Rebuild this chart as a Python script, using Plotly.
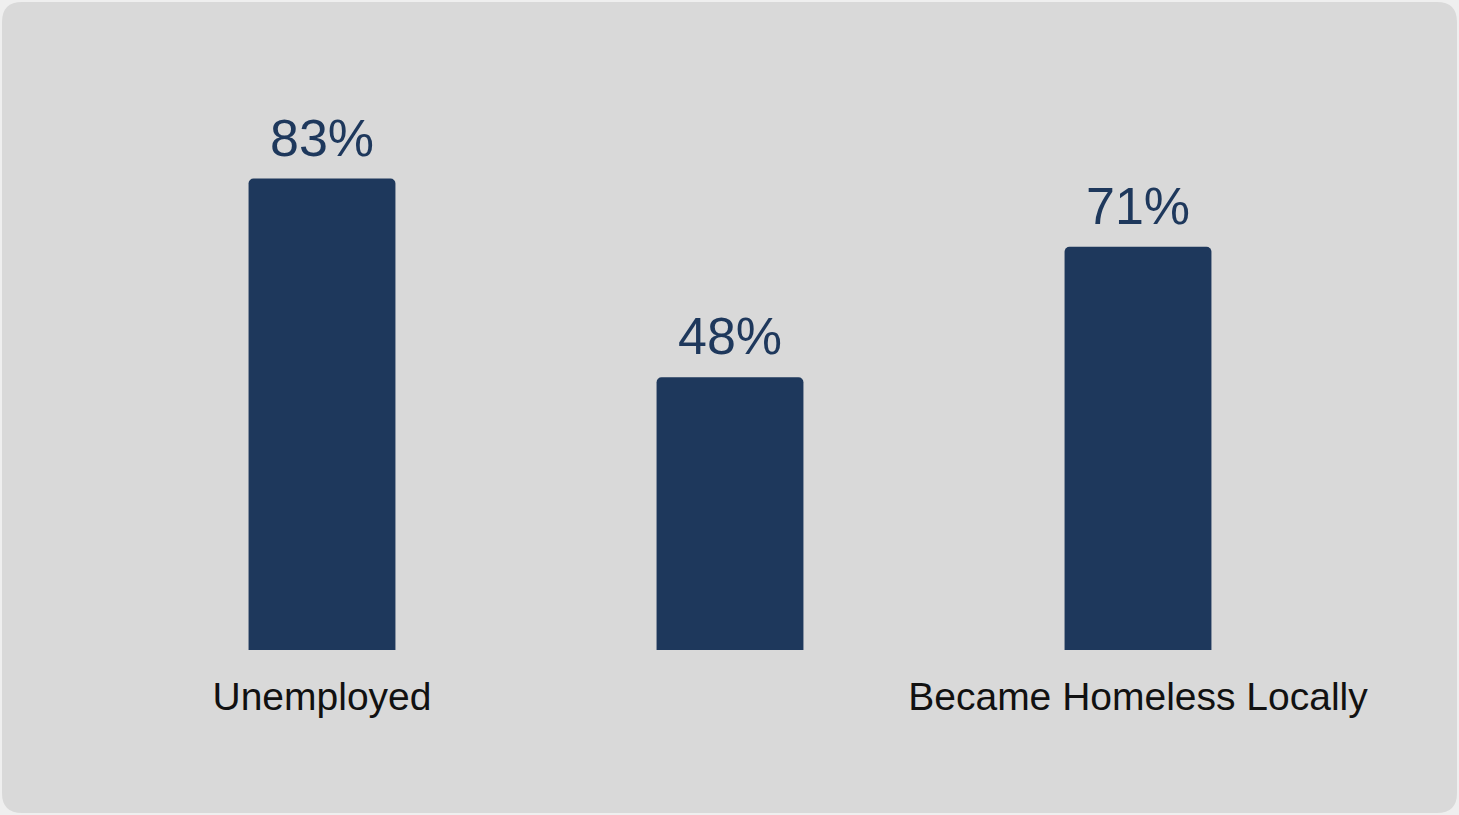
import plotly.graph_objects as go

categories = ["Unemployed", "", "Became Homeless Locally"]
values = [83, 48, 71]
value_labels = ["83%", "48%", "71%"]

NAVY = "#1e385c"
FONT = "Liberation Sans, Arial, Helvetica, sans-serif"

W, H = 1459, 815
ML, MR, MT, MB = 118, 117, 82, 165
PW, PH = W - ML - MR, H - MT - MB

xs = list(range(len(categories)))

fig = go.Figure()
fig.add_trace(go.Bar(
    x=xs, y=values,
    marker=dict(color=NAVY, line=dict(width=0)),
    width=0.36,
    hoverinfo="skip",
))

for x, v, t in zip(xs, values, value_labels):
    fig.add_annotation(x=x, y=v, text=t, showarrow=False, yanchor="bottom",
                       yshift=10, font=dict(family=FONT, size=52, color=NAVY))

# rounded background panel (pixel coords -> paper coords)
def px(xp):
    return (xp - ML) / PW

def py(yp):
    return (H - MB - yp) / PH

x0, x1, y0, y1, r = 2, 1457, 2, 813, 20
path = (
    f"M {px(x0 + r)},{py(y0)} L {px(x1 - r)},{py(y0)} "
    f"Q {px(x1)},{py(y0)} {px(x1)},{py(y0 + r)} "
    f"L {px(x1)},{py(y1 - r)} Q {px(x1)},{py(y1)} {px(x1 - r)},{py(y1)} "
    f"L {px(x0 + r)},{py(y1)} Q {px(x0)},{py(y1)} {px(x0)},{py(y1 - r)} "
    f"L {px(x0)},{py(y0 + r)} Q {px(x0)},{py(y0)} {px(x0 + r)},{py(y0)} Z"
)
fig.add_shape(type="path", path=path, xref="paper", yref="paper",
              fillcolor="#d9d9d9", line=dict(width=0), layer="below")

fig.update_layout(
    width=W, height=H, autosize=False,
    margin=dict(l=ML, r=MR, t=MT, b=MB, pad=0),
    paper_bgcolor="#efefef",
    plot_bgcolor="rgba(0,0,0,0)",
    barcornerradius=5,
    showlegend=False,
    xaxis=dict(range=[-0.5, 2.5], tickvals=xs, ticktext=categories,
               showgrid=False, zeroline=False, showline=False, ticks="",
               ticklabelstandoff=20, fixedrange=True,
               tickfont=dict(family=FONT, size=39, color="#111111")),
    yaxis=dict(range=[0, 100], visible=False, showgrid=False, zeroline=False,
               fixedrange=True),
)

fig.write_html("out.html",
               config={"displayModeBar": False},
               post_script="document.body.style.margin='0';document.body.style.background='#efefef';")
